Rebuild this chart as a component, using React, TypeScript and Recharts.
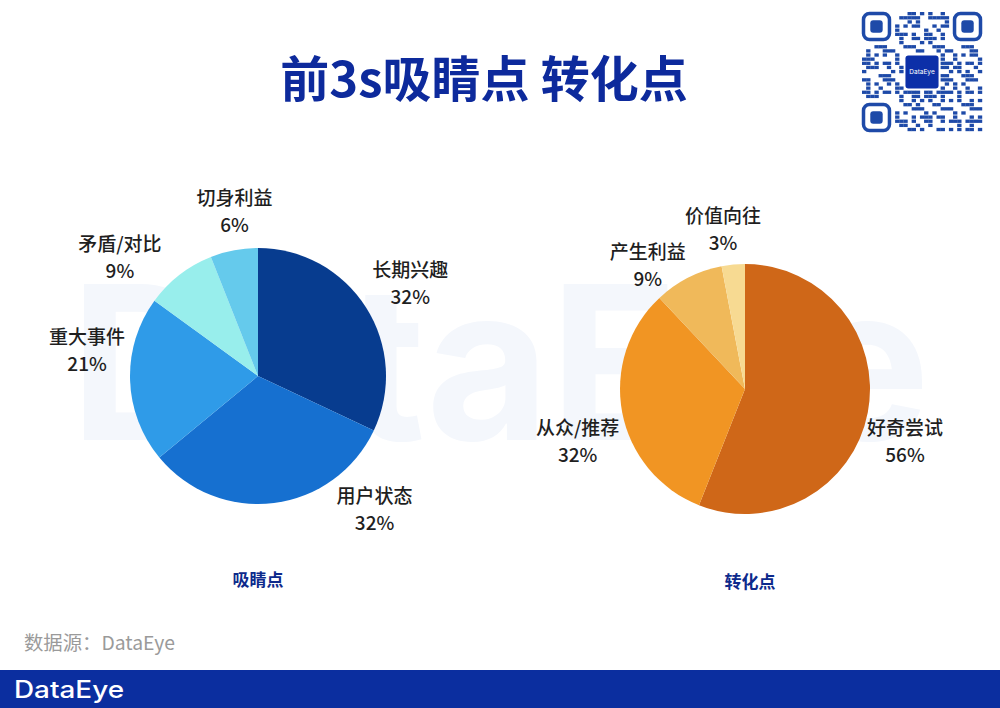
import React from "react";
import { PieChart, Pie, Cell } from "recharts";

const leftNames = ["长期兴趣", "用户状态", "重大事件", "矛盾/对比", "切身利益"];
const leftValues = [32, 32, 21, 9, 6];
const leftColors = ["#073c8f", "#1670d0", "#2f9be8", "#98eeec", "#65caec"];

const rightNames = ["好奇尝试", "从众/推荐", "产生利益", "价值向往"];
const rightValues = [56, 32, 9, 3];
const rightColors = ["#cf6718", "#f19523", "#f0b95a", "#f7da92"];

const titleText = "前3s吸睛点 转化点";
const leftCaption = "吸睛点";
const rightCaption = "转化点";
const sourceText = "数据源：DataEye";
const brandText = "DataEye";

const leftData = leftNames.map((name, i) => ({ name, value: leftValues[i] }));
const rightData = rightNames.map((name, i) => ({ name, value: rightValues[i] }));

// label placement (angle in degrees, distance from centre) – layout only
const labelPlacement: Record<string, [number, number]> = {
  "长期兴趣": [31.7, 179],
  "用户状态": [-48.5, 176],
  "重大事件": [171, 173],
  "矛盾/对比": [139, 183],
  "切身利益": [98, 168],
  "好奇尝试": [-17.7, 168],
  "从众/推荐": [197, 175],
  "产生利益": [128, 158],
  "价值向往": [97.8, 162],
};

const FONT = "'Noto Sans CJK SC', 'Noto Sans', sans-serif";
const RAD = Math.PI / 180;

const renderLabel = (props: any) => {
  const { cx, cy, midAngle, outerRadius, value } = props;
  const name = props.name ?? props.payload?.name;
  const place = labelPlacement[name];
  const ang = place ? place[0] : midAngle;
  const dist = place ? place[1] : outerRadius + 45;
  const x = cx + dist * Math.cos(ang * RAD);
  const y = cy - dist * Math.sin(ang * RAD);
  return (
    <g>
      <text
        x={x}
        y={y - 13.5}
        textAnchor="middle"
        dominantBaseline="central"
        fontFamily={FONT}
        fontSize={19}
        fontWeight={500}
        fill="#1f1f1f"
      >
        {name}
      </text>
      <text
        x={x}
        y={y + 13.5}
        textAnchor="middle"
        dominantBaseline="central"
        fontFamily={FONT}
        fontSize={19}
        fontWeight={500}
        fill="#1f1f1f"
      >
        {value}%
      </text>
    </g>
  );
};

const QRCode = () => {
  const x0 = 862;
  const y0 = 12;
  const n = 29;
  const s = 120 / n;
  const cells: React.ReactNode[] = [];
  const inFinder = (i: number, j: number) =>
    (i < 8 && j < 8) || (i < 8 && j >= n - 8) || (i >= n - 8 && j < 8);
  const inCenter = (i: number, j: number) => i >= 10 && i <= 18 && j >= 10 && j <= 18;
  for (let i = 0; i < n; i++) {
    for (let j = 0; j < n; j++) {
      if (inFinder(i, j) || inCenter(i, j)) continue;
      const h = (i * 31 + j * 17 + ((i * j) % 7) * 5 + ((i ^ j) % 3)) % 7;
      if (h < 3) {
        cells.push(
          <rect key={`${i}-${j}`} x={x0 + j * s} y={y0 + i * s} width={s * 1.05} height={s * 0.8} fill="#1e4aa8" />
        );
      }
    }
  }
  const finder = (fx: number, fy: number, k: string) => (
    <g key={k}>
      <rect x={fx + 1.5} y={fy + 1.5} width={7 * s - 3} height={7 * s - 3} rx={6} fill="none" stroke="#1e4aa8" strokeWidth={3.5} />
      <rect x={fx + 2 * s} y={fy + 2 * s} width={3 * s} height={3 * s} rx={3} fill="#1e4aa8" />
    </g>
  );
  return (
    <g>
      {cells}
      {finder(x0, y0, "a")}
      {finder(x0 + (n - 7) * s, y0, "b")}
      {finder(x0, y0 + (n - 7) * s, "c")}
      <rect x={x0 + 10.5 * s} y={y0 + 10.5 * s} width={8 * s} height={8 * s} rx={3} fill="#0c2fa8" />
      <text x={x0 + 14.5 * s} y={y0 + 14.6 * s} textAnchor="middle" dominantBaseline="central" fontFamily="Inter, sans-serif" fontSize={6.5} fill="#ffffff">
        DataEye
      </text>
    </g>
  );
};

export default function App() {
  return (
    <div style={{ position: "absolute", left: 0, top: 0, width: 1000, height: 708, background: "#ffffff", overflow: "hidden" }}>
      <svg width={1000} height={708} style={{ position: "absolute", left: 0, top: 0 }}>
        <text
          x={70}
          y={440}
          fontFamily="Inter, 'Open Sans', sans-serif"
          fontWeight={700}
          fontSize={215}
          fill="#f4f7fc"
          textLength={860}
          lengthAdjust="spacingAndGlyphs"
        >
          DataEye
        </text>
      </svg>
      <div style={{ position: "absolute", left: 0, top: 0 }}>
        <PieChart width={1000} height={708} margin={{ top: 0, right: 0, bottom: 0, left: 0 }}>
          <Pie
            data={leftData}
            dataKey="value"
            nameKey="name"
            cx={258}
            cy={376}
            outerRadius={128}
            startAngle={90}
            endAngle={-270}
            stroke="none"
            label={renderLabel}
            labelLine={false}
            isAnimationActive={false}
          >
            {leftData.map((d, i) => (
              <Cell key={d.name} fill={leftColors[i]} />
            ))}
          </Pie>
          <Pie
            data={rightData}
            dataKey="value"
            nameKey="name"
            cx={745}
            cy={389}
            outerRadius={125}
            startAngle={90}
            endAngle={-270}
            stroke="none"
            label={renderLabel}
            labelLine={false}
            isAnimationActive={false}
          >
            {rightData.map((d, i) => (
              <Cell key={d.name} fill={rightColors[i]} />
            ))}
          </Pie>
        </PieChart>
      </div>
      <svg width={1000} height={708} style={{ position: "absolute", left: 0, top: 0, pointerEvents: "none" }}>
        <text
          x={484}
          y={75}
          textAnchor="middle"
          dominantBaseline="central"
          fontFamily={FONT}
          fontWeight={700}
          fontSize={49}
          fill="#0d2a9c"
        >
          {titleText}
        </text>
        <QRCode />
        <text x={258} y={578} textAnchor="middle" dominantBaseline="central" fontFamily={FONT} fontWeight={700} fontSize={17} fill="#0d2a8c">
          {leftCaption}
        </text>
        <text x={750} y={580} textAnchor="middle" dominantBaseline="central" fontFamily={FONT} fontWeight={700} fontSize={17} fill="#0d2a8c">
          {rightCaption}
        </text>
        <text
          x={24}
          y={641}
          dominantBaseline="central"
          fontFamily={FONT}
          fontSize={19}
          fill="#9a9a9a"
          textLength={151}
          lengthAdjust="spacingAndGlyphs"
        >
          {sourceText}
        </text>
        <rect x={0} y={670} width={1000} height={38} fill="#0b2e9f" />
        <text
          x={14}
          y={689}
          dominantBaseline="central"
          fontFamily="Inter, sans-serif"
          fontWeight={500}
          fontSize={24}
          fill="#ffffff"
          textLength={110}
          lengthAdjust="spacingAndGlyphs"
        >
          {brandText}
        </text>
      </svg>
    </div>
  );
}
